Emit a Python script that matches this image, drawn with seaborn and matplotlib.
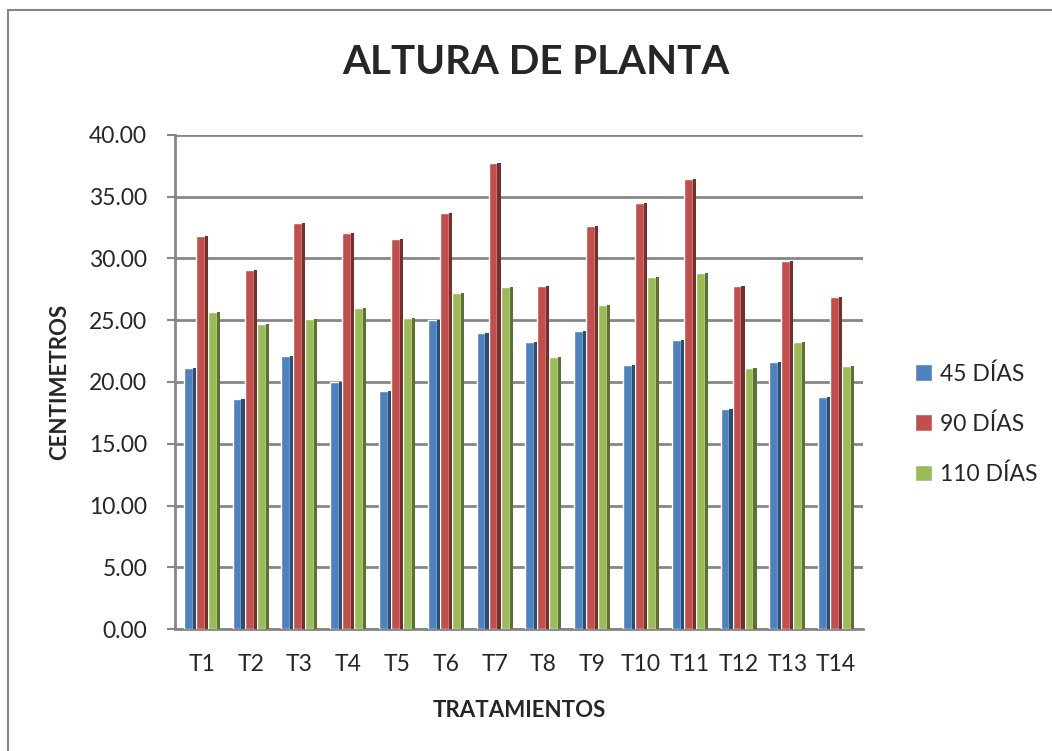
import matplotlib
matplotlib.use('Agg')
import matplotlib.pyplot as plt
import numpy as np
import pandas as pd
import seaborn as sns
from matplotlib.patches import Rectangle
from matplotlib.lines import Line2D
import matplotlib.colors as mcolors

tratamientos = ['T1', 'T2', 'T3', 'T4', 'T5', 'T6', 'T7',
                'T8', 'T9', 'T10', 'T11', 'T12', 'T13', 'T14']
dias_45 = [21.1, 18.6, 22.1, 20.0, 19.3, 25.0, 24.0,
           23.2, 24.1, 21.4, 23.4, 17.8, 21.6, 18.8]
dias_90 = [31.8, 29.1, 32.9, 32.1, 31.6, 33.7, 37.7,
           27.8, 32.6, 34.5, 36.4, 27.8, 29.8, 26.9]
dias_110 = [25.7, 24.7, 25.1, 26.0, 25.2, 27.2, 27.7,
            22.0, 26.2, 28.5, 28.8, 21.1, 23.2, 21.3]
series = ['45 DÍAS', '90 DÍAS', '110 DÍAS']
colores = ['#4F81BD', '#C0504D', '#9BBB59']

df = pd.DataFrame({
    'tratamiento': tratamientos * 3,
    'valor': dias_45 + dias_90 + dias_110,
    'serie': [s for s in series for _ in tratamientos],
})

sns.set_theme(style='white')
plt.rcParams['font.family'] = ['Lato', 'DejaVu Sans']

fig = plt.figure(figsize=(10.52, 7.51), dpi=100)
ax = fig.add_axes([175 / 1052, 1 - 629 / 751, (863 - 175) / 1052, (629 - 135) / 751])

sns.barplot(data=df, x='tratamiento', y='valor', hue='serie',
            palette=colores, order=tratamientos, hue_order=series,
            width=0.74, saturation=1, ax=ax, legend=False, zorder=3)

# darker side face to mimic the 3D look
for p in list(ax.patches):
    c = mcolors.to_rgb(p.get_facecolor())
    dark = tuple(v * 0.6 for v in c)
    w = p.get_width()
    ax.add_patch(Rectangle((p.get_x() + w * 0.74, p.get_y()), w * 0.26, p.get_height(),
                           facecolor=dark, edgecolor='none', zorder=4))
    p.set_width(w * 0.74)

ax.set_ylim(0, 40)
ax.set_xlim(-0.55, 13.55)
ax.set_yticks(np.arange(0, 41, 5))
ax.set_yticklabels([f'{v:.2f}' for v in np.arange(0, 41, 5)], fontsize=16.5)
ax.tick_params(axis='x', labelsize=16.5, length=0, pad=18)
ax.tick_params(axis='y', length=6, width=1.5, color='#868686', left=True, pad=14)
ax.yaxis.grid(True, color='#868686', linewidth=2, zorder=0)
ax.set_axisbelow(True)
for s in ['top', 'right']:
    ax.spines[s].set_visible(False)
for s in ['left', 'bottom']:
    ax.spines[s].set_color('#868686')
    ax.spines[s].set_linewidth(2)

ax.set_xlabel('TRATAMIENTOS', fontsize=16, fontweight='bold', labelpad=18)
ax.set_ylabel('CENTIMETROS', fontsize=16, fontweight='bold', labelpad=14)

fig.text(536 / 1052, 1 - 62 / 751, 'ALTURA DE PLANTA', fontsize=29,
         fontweight='bold', ha='center', va='center')

handles = [Rectangle((0, 0), 1, 1, facecolor=c) for c in colores]
fig.legend(handles, series, loc='center left', bbox_to_anchor=(906 / 1052, 1 - 424 / 751),
           frameon=False, fontsize=16.5, handlelength=0.75, handleheight=0.75,
           handletextpad=0.35, labelspacing=1.25, borderaxespad=0)

# outer chart border (left and top visible)
fig.add_artist(Line2D([8 / 1052, 8 / 1052], [0, 1 - 10 / 751],
                      color='#868686', linewidth=1.5, transform=fig.transFigure))
fig.add_artist(Line2D([8 / 1052, 1], [1 - 10 / 751, 1 - 10 / 751],
                      color='#868686', linewidth=1.5, transform=fig.transFigure))

fig.savefig('out.png', dpi=100)
plt.close()
